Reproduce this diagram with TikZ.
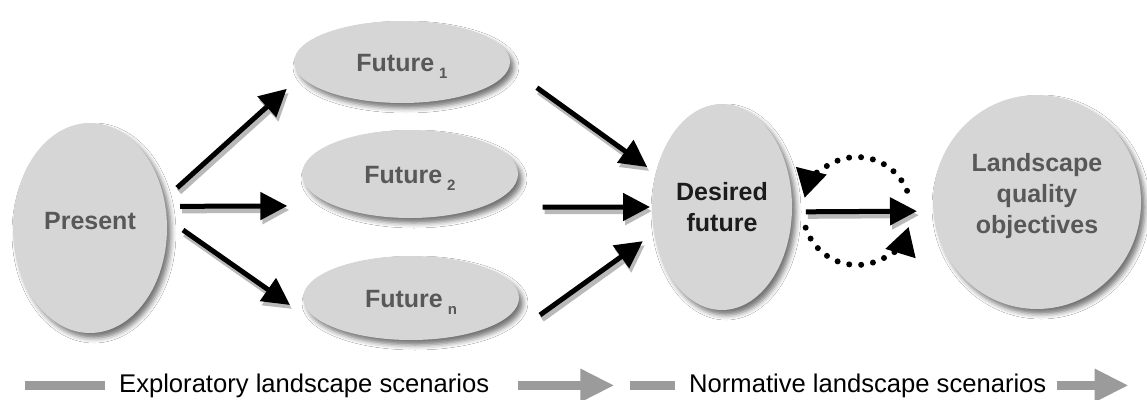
\documentclass[tikz,border=0pt]{standalone}
\usepackage{fontspec}
\setmainfont{Liberation Sans}
\usetikzlibrary{arrows.meta,shapes.geometric,shadows.blur}

\definecolor{nodefill}{RGB}{214,214,214}
\definecolor{nodetext}{RGB}{88,88,88}
\definecolor{darktext}{RGB}{28,28,28}
\definecolor{bandgray}{RGB}{155,155,155}
\definecolor{arrowshade}{RGB}{185,185,185}

\tikzset{
  blob/.style={ellipse, fill=nodefill, inner sep=0pt, outer sep=0pt, text=nodetext,
    font=\fontsize{25}{31}\selectfont\bfseries, align=center,
    blur shadow={shadow xshift=4pt, shadow yshift=-5pt, shadow blur radius=5pt, shadow opacity=55}},
  futurebox/.style={blob, minimum width=216pt, text height=18pt, text depth=0pt},
  flow/.style={line width=5pt, -{Triangle[length=27pt,width=27pt]},
    preaction={draw=arrowshade, line width=6pt, transform canvas={shift={(2pt,-4pt)}}}},
  loopflow/.style={line width=6pt, line cap=round, dash pattern=on 0pt off 12pt,
    -{Triangle[length=28pt,width=30pt]}},
  band/.style={line width=9pt, draw=bandgray},
  bandarrow/.style={band, -{Triangle[length=34pt,width=31pt]}},
  caption/.style={font=\fontsize{25.6}{30}\selectfont, inner sep=0pt, anchor=base west},
}
\newcommand{\futsub}[1]{\hspace{5pt}\raisebox{-7pt}{\fontsize{15}{15}\selectfont #1}}

\begin{document}
\begin{tikzpicture}[x=1pt,y=1pt]
  \fill[white] (0,0) rectangle (1147,-399);
  \useasboundingbox (0,0) rectangle (1147,-399);

  % scenario nodes
  \node[blob, minimum width=154pt, minimum height=210pt, text height=18pt, text depth=16pt]
    (present) at (90,-228) {Present};
  \node[futurebox, minimum height=82pt] (f1) at (402,-62) {Future\futsub{1}};
  \node[futurebox, minimum height=88pt] (f2) at (410,-174) {Future\futsub{2}};
  \node[futurebox, minimum height=84pt] (fn) at (411,-298) {Future\futsub{n}};
  \node[blob, minimum width=140pt, minimum height=206pt, text=darktext]
    (desired) at (722,-207) {Desired\\future};
  \node[blob, minimum width=208pt, minimum height=214pt]
    (lqo) at (1037,-202)
    {\raisebox{0pt}[\height][\dimexpr\depth+12pt\relax]{\begin{tabular}{@{}c@{}}Landscape\\quality\\objectives\end{tabular}}};

  % exploratory branches
  \draw[flow, shorten <=17.5pt, shorten >=18.75pt] (present.21.66) -- (f1.188.2);
  \draw[flow, shorten <=14.7pt, shorten >=47.9pt] (present.16.29) -- (f2.203.35);
  \draw[flow, shorten <=19.9pt] (present.7.02) -- ([shift={(-13pt,-7pt)}]fn.west);

  % convergence on the desired future
  \draw[flow, shorten <=34.4pt, shorten >=10.7pt] (f1.357.54) -- (desired.153.8);
  \draw[flow, shorten <=61.6pt, shorten >=2pt] (f2.335.2) -- (desired.west);
  \draw[flow, shorten >=14pt] ([shift={(21pt,-17pt)}]fn.east) -- (desired.201.7);

  % normative link and feedback loop
  \draw[flow, shorten <=14pt, shorten >=16.4pt] (desired.356.73) -- (lqo.185);
  \coordinate (swap) at (857,-211);
  \draw[loopflow] ([shift={(22:54)}]swap) arc[start angle=22, end angle=166, radius=54];
  \draw[loopflow] ([shift={(198:54)}]swap) arc[start angle=198, end angle=343, radius=54];

  % scenario bands
  \node[caption] (explo) at (119,-392) {Exploratory landscape scenarios};
  \node[caption] (norm) at (689,-392) {Normative landscape scenarios};
  \draw[band] ([xshift=-14pt]explo.west) -- ++(-80pt,0);
  \draw[bandarrow] ([xshift=29pt]explo.east) -- ++(96pt,0);
  \draw[band] ([xshift=-14pt]norm.west) -- ++(-45pt,0);
  \draw[bandarrow] ([xshift=10pt]norm.east) -- ++(72pt,0);
\end{tikzpicture}
\end{document}
